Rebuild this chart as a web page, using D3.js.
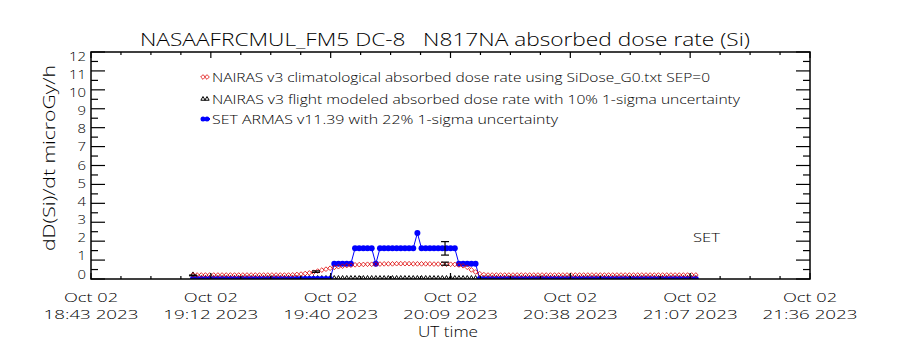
<!DOCTYPE html>
<html><head><meta charset="utf-8">
<script src="https://cdn.jsdelivr.net/npm/d3@7"></script>
<style>
body{margin:0;background:#fff}
svg{display:block}
text{font-family:"Open Sans","DejaVu Sans",sans-serif;font-weight:300;fill:#000;white-space:pre}
</style>
</head><body><svg id="c" width="900" height="350"></svg>
<script>
// ---------------- data ----------------
const titleText = "NASAAFRCMUL_FM5 DC-8   N817NA absorbed dose rate (Si)";
const yLabelText = "dD(Si)/dt microGy/h";
const xLabelText = "UT time";
const xTickLine1 = ["Oct 02","Oct 02","Oct 02","Oct 02","Oct 02","Oct 02","Oct 02"];
const xTickLine2 = ["18:43 2023","19:12 2023","19:40 2023","20:09 2023","20:38 2023","21:07 2023","21:36 2023"];
const yTickValues = [0,1,2,3,4,5,6,7,8,9,10,11,12];
const legendLabels = [
  "NAIRAS v3 climatological absorbed dose rate using SiDose_G0.txt SEP=0",
  "NAIRAS v3 flight modeled absorbed dose rate with 10% 1-sigma uncertainty",
  "SET ARMAS v11.39 with 22% 1-sigma uncertainty"
];
const setLabel = "SET";
const axisStart = "2023-10-02T18:43:00Z";
const axisEnd   = "2023-10-02T21:36:00Z";
const seriesStart = "2023-10-02T19:07:32Z";   // 1-minute cadence
// SET ARMAS dose rate, microGy/h
const armas = [
 0,0,0,0,0,0,0,0,0,0, 0,0,0,0,0,0,0,0,0,0, 0,0,0,0,0,0,0,0,0,0, 0,0,0,0,
 0.81,0.81,0.81,0.81,0.81,
 1.62,1.62,1.62,1.62,1.62,
 0.81,
 1.62,1.62,1.62,1.62,1.62,1.62,1.62,1.62,1.62,
 2.43,
 1.62,1.62,1.62,1.62,1.62,1.62,1.62,1.62,1.62,
 0.81,0.81,0.81,0.81,0.81,
 0,0,0,0,0,0,0,0,0,0, 0,0,0,0,0,0,0,0,0,0, 0,0,0,0,0,0,0,0,0,0,
 0,0,0,0,0,0,0,0,0,0, 0,0,0,0,0,0,0,0,0,0, 0,0,0
];
// NAIRAS climatological dose rate
const climo = [
 0.21,0.21,0.21,0.21,0.21,0.21,0.21,0.21,0.21,0.21, 0.21,0.21,0.21,0.21,0.21,0.21,0.21,0.21,0.21,0.21,
 0.21,0.21,0.21,0.21,0.22,0.24,0.26,0.29,0.32,0.36, 0.42,0.47,0.52,0.57,0.61,0.65,0.68,0.71,0.73,0.75,
 0.76,0.77,0.78,0.78,0.79,0.79,0.80,0.80,0.80,0.81, 0.81,0.81,0.81,0.80,0.80,0.80,0.80,0.80,0.79,0.79,
 0.79,0.78,0.78,0.77,0.74,0.70,0.62,0.48,0.37,0.28, 0.23,0.21,0.21,0.21,0.21,0.21,0.21,0.21,0.21,0.21,
 0.21,0.21,0.21,0.21,0.21,0.21,0.21,0.21,0.21,0.21, 0.21,0.21,0.21,0.21,0.21,0.21,0.21,0.21,0.21,0.21,
 0.21,0.21,0.21,0.21,0.21,0.21,0.21,0.21,0.21,0.21, 0.21,0.21,0.21,0.21,0.21,0.21,0.21,0.21,0.21,0.21,
 0.21,0.21
];
// NAIRAS flight modeled (triangles) - same cadence
const flight = [
 0.19,0,0,0,0,0,0,0,0,0, 0,0,0,0,0,0,0,0,0,0, 0,0,0,0,0,0,0,0,0,0,
 0,0,0,0,0,0,0,0,0,0, 0,0,0,0,0,0,0,0,0,0, 0,0,0,0,0,0,0,0,0,0,
 0,0,0,0,0,0,0,0,0,0, 0,0,0,0,0,0,0,0,0,0, 0,0,0,0,0,0,0,0,0,0,
 0,0,0,0,0,0,0,0,0,0, 0,0,0,0,0,0,0,0,0,0, 0,0,0,0,0,0,0,0,0,0,
 0,0
];
// flight modeled points with error bars
const flightErrTimes  = ["2023-10-02T19:07:32Z","2023-10-02T19:37:08Z","2023-10-02T20:08:11Z"];
const flightErrValues = [0.19, 0.39, 0.81];
// ARMAS error bar sample
const armasErrTimes  = ["2023-10-02T20:08:11Z"];
const armasErrValues = [1.62];

// ---------------- drawing ----------------
const svg = d3.select("#c");
const L = 91, R = 810, T = 52, B = 279;
const x = d3.scaleUtc().domain([new Date(axisStart), new Date(axisEnd)]).range([L, R]);
const y = d3.scaleLinear().domain([0, 12]).range([B, T]);
// tick-label placement scale (labels in the reference sit slightly inside the ticks)
const yLab = d3.scaleLinear().domain([0, 12]).range([274, 56]);
const t0 = new Date(seriesStart).getTime();
const tAt = i => new Date(t0 + i * 60000);

svg.append("defs").append("clipPath").attr("id","clip")
  .append("rect").attr("x",L).attr("y",T).attr("width",R-L).attr("height",B-T);

const plot = svg.append("g").attr("clip-path","url(#clip)");

// flight modeled triangles
const tri = d3.symbol().type(d3.symbolTriangle).size(8);
plot.append("g").selectAll("path").data(flight).join("path")
  .attr("d", tri)
  .attr("transform",(d,i)=>`translate(${x(tAt(i))},${y(d)-1})`)
  .attr("fill","none").attr("stroke","#000").attr("stroke-width",1);

// ARMAS line + dots
const line = d3.line().x((d,i)=>x(tAt(i))).y(d=>y(d));
plot.append("path").datum(armas).attr("d",line)
  .attr("fill","none").attr("stroke","#0000ff").attr("stroke-width",1);
plot.append("g").selectAll("circle").data(armas).join("circle")
  .attr("cx",(d,i)=>x(tAt(i))).attr("cy",d=>y(d)).attr("r",3)
  .attr("fill","#0000ff");

// climatological diamonds
const dia = d3.symbol().type(d3.symbolDiamond2).size(14);
plot.append("g").selectAll("path").data(climo).join("path")
  .attr("d", dia)
  .attr("transform",(d,i)=>`translate(${x(tAt(i))},${y(d)})`)
  .attr("fill","none").attr("stroke","#dd0000").attr("stroke-width",0.8);

// error bars
function errBar(t, v, frac){
  const xx = x(new Date(t)), y1 = y(v*(1+frac)), y2 = y(v*(1-frac));
  const g = plot.append("g").attr("stroke","#000").attr("stroke-width",1.2);
  g.append("line").attr("x1",xx).attr("x2",xx).attr("y1",y1).attr("y2",y2);
  g.append("line").attr("x1",xx-4).attr("x2",xx+4).attr("y1",y1).attr("y2",y1);
  g.append("line").attr("x1",xx-4).attr("x2",xx+4).attr("y1",y2).attr("y2",y2);
}
flightErrTimes.forEach((t,i)=>errBar(t, flightErrValues[i], 0.10));
armasErrTimes.forEach((t,i)=>errBar(t, armasErrValues[i], 0.22));

// axes box
const ax = svg.append("g").attr("stroke","#000").attr("stroke-width",1.5).attr("fill","none");
ax.append("rect").attr("x",L).attr("y",T).attr("width",R-L).attr("height",B-T);

// y ticks (major at integers, minor at halves)
const yMinor = d3.range(0.5, 12, 1);
yTickValues.forEach(v=>{
  ax.append("line").attr("x1",L).attr("x2",L+14).attr("y1",y(v)).attr("y2",y(v)).attr("stroke-width",1.2);
  ax.append("line").attr("x1",R).attr("x2",R-14).attr("y1",y(v)).attr("y2",y(v)).attr("stroke-width",1.2);
});
yMinor.forEach(v=>{
  ax.append("line").attr("x1",L).attr("x2",L+7).attr("y1",y(v)).attr("y2",y(v)).attr("stroke-width",1.2);
  ax.append("line").attr("x1",R).attr("x2",R-7).attr("y1",y(v)).attr("y2",y(v)).attr("stroke-width",1.2);
});
// x ticks
const span = (new Date(axisEnd) - new Date(axisStart));
const xMajor = d3.range(7).map(k=>new Date(new Date(axisStart).getTime() + k*span/6));
const xMinor = d3.range(25).filter(k=>k%4).map(k=>new Date(new Date(axisStart).getTime() + k*span/24));
xMajor.forEach(d=>{
  ax.append("line").attr("x1",x(d)).attr("x2",x(d)).attr("y1",B).attr("y2",B-6).attr("stroke-width",1.2);
  ax.append("line").attr("x1",x(d)).attr("x2",x(d)).attr("y1",T).attr("y2",T+6).attr("stroke-width",1.2);
});
xMinor.forEach(d=>{
  ax.append("line").attr("x1",x(d)).attr("x2",x(d)).attr("y1",B).attr("y2",B-3).attr("stroke-width",1.2);
  ax.append("line").attr("x1",x(d)).attr("x2",x(d)).attr("y1",T).attr("y2",T+3).attr("stroke-width",1.2);
});

// y tick labels
svg.append("g").selectAll("text").data(yTickValues).join("text")
  .attr("x",86).attr("y",d=>yLab(d)+4.5).attr("text-anchor","end")
  .attr("font-size",12.5)
  .attr("textLength",d=>String(d).length*8.5).attr("lengthAdjust","spacingAndGlyphs")
  .text(d=>d);
// x tick labels
xMajor.forEach((d,k)=>{
  svg.append("text").attr("x",x(d)).attr("y",302).attr("text-anchor","middle").attr("font-size",13.5)
    .attr("textLength",54).attr("lengthAdjust","spacingAndGlyphs").text(xTickLine1[k]);
  svg.append("text").attr("x",x(d)).attr("y",319).attr("text-anchor","middle").attr("font-size",13.5)
    .attr("textLength",95).attr("lengthAdjust","spacingAndGlyphs").text(xTickLine2[k]);
});
svg.append("text").attr("x",448).attr("y",337).attr("text-anchor","middle").attr("font-size",14)
  .attr("textLength",60).attr("lengthAdjust","spacingAndGlyphs").text(xLabelText);
svg.append("text").attr("transform","translate(55,158) rotate(-90)").attr("text-anchor","middle")
  .attr("font-size",16).attr("textLength",186).attr("lengthAdjust","spacingAndGlyphs").text(yLabelText);
svg.append("text").attr("x",445).attr("y",46).attr("text-anchor","middle").attr("font-size",19)
  .attr("textLength",610).attr("lengthAdjust","spacingAndGlyphs").text(titleText);

// legend
const legY = [77, 99, 119];
const legW = [498, 528, 346];
legendLabels.forEach((s,k)=>{
  svg.append("text").attr("x",212).attr("y",legY[k]+5).attr("font-size",13)
    .attr("textLength",legW[k]).attr("lengthAdjust","spacingAndGlyphs").text(s);
});
const lg = svg.append("g");
[203,207].forEach(cx=>{
  lg.append("path").attr("d",dia).attr("transform",`translate(${cx},${legY[0]})`)
    .attr("fill","none").attr("stroke","#dd0000").attr("stroke-width",0.8);
  lg.append("path").attr("d",tri).attr("transform",`translate(${cx},${legY[1]})`)
    .attr("fill","none").attr("stroke","#000").attr("stroke-width",1);
  lg.append("circle").attr("cx",cx).attr("cy",legY[2]).attr("r",2.5).attr("fill","#0000ff");
});
lg.append("line").attr("x1",201).attr("x2",210).attr("y1",legY[2]).attr("y2",legY[2]).attr("stroke","#0000ff").attr("stroke-width",2);

svg.append("text").attr("x",693).attr("y",242).attr("font-size",13)
  .attr("textLength",27).attr("lengthAdjust","spacingAndGlyphs").text(setLabel);
</script>
</body></html>
